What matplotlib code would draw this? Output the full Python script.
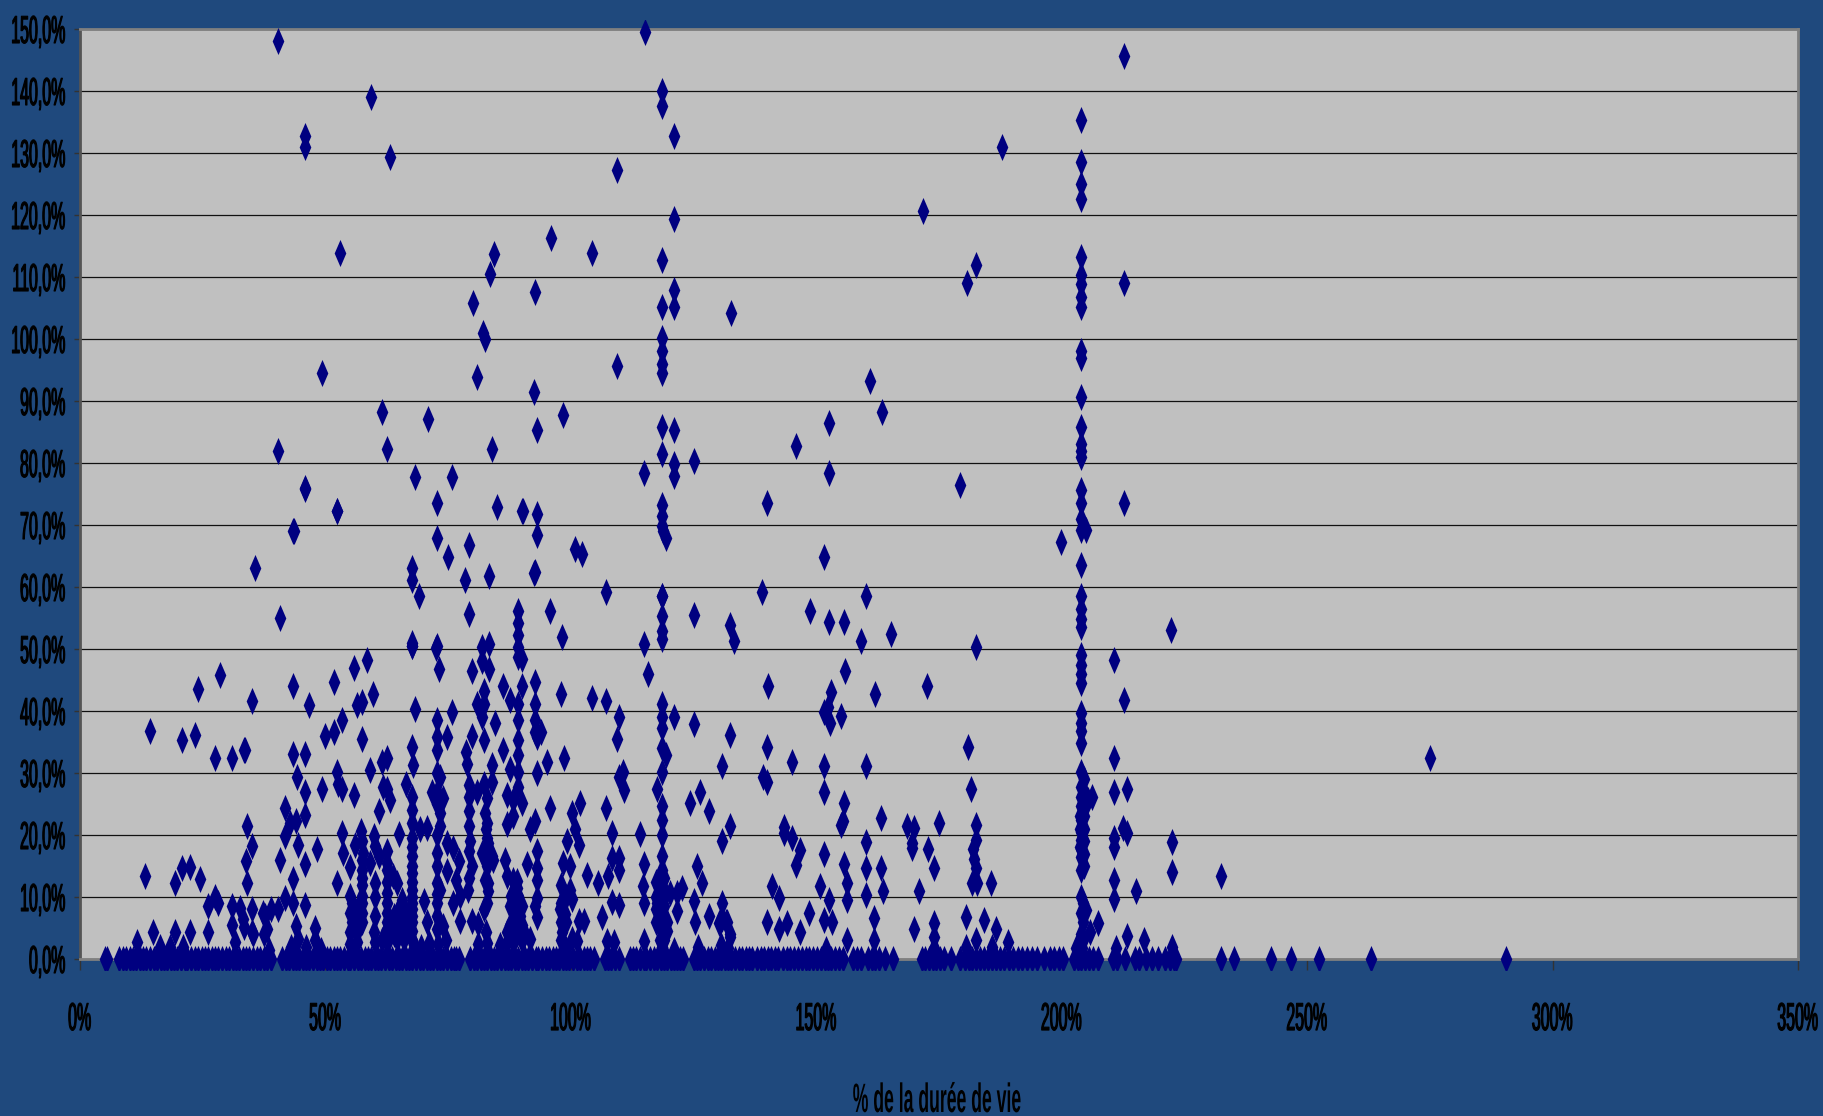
#!/usr/bin/env python3
# -*- coding: utf-8 -*-
"""
Nuage de points: ecart (%) en fonction du % de la duree de vie
"""
import matplotlib
matplotlib.use("Agg")
import matplotlib.pyplot as plt
from matplotlib.patches import Rectangle
from matplotlib.patheffects import AbstractPathEffect
from matplotlib.transforms import Affine2D

W, H = 1823, 1116
FOND = "#1F497D"
GRIS = "#C0C0C0"
MARQUE = "#000080"

xticks = [0, 50, 100, 150, 200, 250, 300, 350]
xlabels = ["0%", "50%", "100%", "150%", "200%", "250%", "300%", "350%"]
yticks = list(range(0, 151, 10))
ylabels = ["0,0%", "10,0%", "20,0%", "30,0%", "40,0%", "50,0%", "60,0%", "70,0%",
           "80,0%", "90,0%", "100,0%", "110,0%", "120,0%", "130,0%", "140,0%", "150,0%"]

# colonnes ou beaucoup de points ont la meme duree de vie
col_204 = [135.3, 128.6, 125, 122.6, 113.3, 110.4, 108.8, 106.8, 105.2, 98, 97, 90.7, 85.8, 83,
           81.9, 80.9, 75.7, 73.6, 70.9, 69.2, 63.5, 58.6, 56.5, 54.8, 53.5, 49, 47.5, 46, 44.5,
           39.6, 38, 36.7, 34.8, 30.2, 27.8, 26.2, 24.6, 22.4, 20.5, 19.2, 17.8, 16.5, 14.4, 10,
           7.4, 4.1]
col_118 = [140, 137.6, 112.8, 105.1, 100.2, 98, 95.9, 94.5, 85.8, 81.5, 73.3, 71.4, 69.8, 58.6,
           55.4, 52.9, 51.6, 41.2, 39, 37.2, 34, 30.2, 24.6, 22.5, 20, 16.6, 14.4, 11.5, 9.1, 7, 4.3]
col_121 = [132.8, 119.3, 107.9, 105.1, 85.3, 79.8, 77.9, 39.1]
col_89 = [56.2, 54.2, 52.3, 50.3, 48.7, 41.2, 38.5, 35.3, 32.9, 30.2, 27.8, 10.2, 7]
col_67 = [63, 61.1, 51, 50.5, 34.2, 26.2, 21.9, 19.5, 16.6, 13.9, 11.2, 9.1, 5.9]
col_93 = [85.3, 71.7, 68.4, 35.8, 30, 17.4, 14.7, 12.8, 9.9, 6.7]
col_72 = [73.5, 67.9, 50.5, 38.5, 35.8, 33.7, 17.1, 12.3, 9.1, 4.8]

# points a 0,0%
zero_x = [5.0, 5.5, 8.0, 8.7, 9.3, 10.1, 10.8, 11.4, 12.2, 12.9, 13.5, 14.3, 15.0, 15.6, 16.4, 17.1,
          17.7, 18.5, 19.2, 19.8, 20.6, 21.3, 21.9, 22.7, 23.4, 24.0, 24.8, 25.5, 26.1, 26.9, 27.6,
          28.2, 29.0, 29.7, 30.3, 31.1, 31.8, 32.4, 33.2, 33.9, 34.5, 35.3, 36.0, 36.6, 37.4, 38.1,
          39.0, 41.2, 41.9, 42.5, 43.3, 44.0, 44.6, 45.4, 46.1, 46.7, 47.5, 48.2, 48.8, 49.6, 50.3,
          50.9, 51.7, 52.4, 53.0, 53.8, 54.5, 55.1, 55.9, 56.6, 57.2, 58.0, 58.7, 59.3, 60.1, 60.8,
          61.4, 62.2, 62.9, 63.5, 64.3, 65.0, 65.6, 66.4, 67.1, 67.7, 68.5, 69.2, 69.8, 70.6, 71.3,
          71.9, 72.7, 73.4, 74.0, 74.8, 75.5, 76.1, 76.7, 77.3, 79.5, 80.2, 80.8, 81.6, 82.3, 82.9,
          83.7, 84.4, 85.0, 85.8, 86.5, 87.1, 87.9, 88.6, 89.2, 90.0, 90.7, 91.3, 92.1, 92.8, 93.4,
          94.2, 94.9, 95.5, 96.3, 97.0, 97.6, 98.4, 99.1, 99.7, 100.5, 101.2, 101.8, 102.6, 103.3,
          103.9, 104.7, 106.9, 107.6, 108.2, 109.0, 109.8, 112.0, 112.7, 113.3, 114.1, 114.8, 115.4,
          116.2, 116.9, 117.5, 118.3, 119.0, 119.6, 120.4, 121.1, 121.7, 122.3, 122.9, 125.1, 125.8,
          126.4, 127.2, 127.9, 128.5, 129.3, 130.0, 130.6, 131.4, 132.1, 132.7, 133.5, 134.2, 134.8,
          135.6, 136.3, 137.0, 138.0, 138.7, 139.3, 140.1, 140.8, 141.6, 142.3, 143.2, 144.0, 144.7,
          145.5, 146.2, 147.0, 148.0, 148.6, 149.4, 150.2, 150.9, 151.7, 152.4, 153.0, 153.8, 154.7,
          155.5, 157.5, 158.3, 159.1, 160.5, 161.3, 162.0, 162.8, 163.9, 165.6, 171.5, 172.2, 172.9,
          173.7, 174.4, 175.2, 176.1, 177.5, 179.3, 180.2, 181.1, 181.8, 182.6, 183.4, 184.2, 185.0,
          185.8, 186.6, 187.4, 188.3, 189.2, 190.1, 191.0, 192.0, 193.0, 194.0, 195.0, 196.4, 197.6,
          198.5, 199.4, 200.3, 202.5, 203.3, 204.0, 204.8, 205.6, 206.4, 207.4, 210.5, 211.3, 212.8,
          214.9, 215.7, 217.2, 218.4, 219.6, 221.0, 222.0, 222.8, 223.2, 232.5, 235.0, 242.7, 246.7,
          252.5, 263.0, 290.5]

# petits ecarts qui font les bosses juste au-dessus de la ligne de base
bas_x = [11.7, 16.2, 18.4, 21.0, 31.5, 38.5, 43.0, 44.5, 46.0, 47.8, 49.0, 55.0, 56.5, 60.0, 61.5,
         63.0, 64.5, 66.0, 68.0, 69.5, 71.0, 73.0, 74.5, 81.0, 83.0, 85.5, 87.0, 88.5, 90.0, 91.7,
         99.0, 100.2, 101.2, 107.3, 108.7, 115.0, 118.5, 121.0, 126.0, 130.5, 132.0, 152.0, 156.3,
         174.0, 180.5, 182.5, 185.7, 189.1, 203.0, 204.2, 211.0, 222.4]
bas_y = [2.8, 2.0, 2.0, 2.0, 2.8, 1.5, 2.0, 3.2, 2.0, 3.0, 1.5, 2.4, 2.8, 2.8, 3.0,
         3.4, 3.2, 3.2, 2.2, 2.0, 2.6, 2.4, 3.0, 2.4, 2.6, 2.2, 2.8, 3.0, 3.0, 3.2,
         1.6, 3.2, 2.9, 2.9, 2.7, 2.9, 2.0, 1.4, 2.0, 2.2, 1.8, 1.6, 3.1,
         1.8, 2.0, 3.0, 2.0, 2.8, 1.7, 1.8, 1.7, 2.0]

# (duree de vie, ecart)
gauche = [(14.2, 36.7), (20.8, 35.4), (23.4, 36.1), (27.5, 32.4), (30.9, 32.4), (33.5, 33.7), (13.3, 13.4),
          (20.8, 14.6), (22.4, 14.9), (24.4, 12.9), (19.4, 12.2), (26, 8.6), (27.6, 10), (28.2, 9), (14.9, 4.3),
          (19.4, 4.3), (22.4, 4.4), (26.1, 4.3), (30.9, 8.6), (32.5, 8.2), (30.9, 5.5), (33.5, 5.2), (35.3, 4.1),
          (37.3, 7.4), (37.5, 4.1), (35, 41.6), (24, 43.5), (28.5, 45.8), (35.7, 63), (40.3, 148), (40.3, 82),
          (40.7, 55), (43.6, 69), (45.9, 132.7), (45.9, 131), (45.9, 75.8), (49.3, 94.5), (45.8, 75.9),
          (43.3, 69.1), (52.4, 72.2), (53, 113.9), (43.3, 44), (46.7, 40.9), (51.8, 44.6), (55.9, 47), (58.4, 48.2),
          (59.7, 42.8), (57.5, 41.5), (56.5, 40.9), (53.4, 38.5), (51.8, 36.6), (49.9, 36), (57.5, 35.5),
          (33.6, 33.7), (43.3, 33), (45.8, 33), (62.5, 32.5), (61.5, 31.8), (59.1, 30.5), (44.3, 29.3), (52.4, 30.2),
          (52.6, 28.3), (53.3, 27.5), (49.3, 27.4), (45.8, 27), (55.9, 26.4), (61.8, 27.8), (62.5, 27.5), (63.1, 25.7),
          (61, 23.8), (66.5, 28.2), (41.7, 24.3), (41.7, 19.8), (42.8, 21.9), (44.1, 22.2), (45.8, 23.3),
          (44.5, 18.4), (48.3, 17.8), (34.1, 21.4), (35, 18.3), (33.8, 15.8), (34.1, 12.3), (40.7, 16), (45.8, 15.3),
          (43.3, 12.9), (53.4, 20.3), (53.6, 17.1), (55, 14.8), (52.4, 12.3), (56, 18.4), (57.2, 20.6), (57.7, 17.1),
          (59.8, 19.8), (60.1, 18.2), (61, 16.6), (62.5, 17.4), (57.4, 14.4), (59.1, 15.5), (60.1, 12.3), (62.5, 14.4),
          (63.8, 13.4), (64.5, 12.3), (65, 20.2), (55, 10.2), (55, 7.5), (56.4, 8), (57.5, 10.2), (57.5, 5.9),
          (62.5, 10.7), (62.5, 7.5), (65.2, 8.6), (66.5, 7.5), (62.5, 4.8), (59.8, 4.3), (44.1, 5.3), (47.9, 5),
          (41.7, 9.9), (43.3, 9.1), (45.8, 8.7), (40.4, 8), (39, 8), (37.7, 7), (35, 8), (33.3, 6.4), (35, 4.3),
          (38, 4.8), (55, 4.3), (56.4, 4.3), (59.2, 139), (63.2, 129.3), (61.6, 88.3), (62.5, 82.2), (52.4, 72.2)]

milieu = [(68.2, 77.8), (75.8, 77.8), (70.8, 87.1), (84, 82.2), (80.9, 93.9), (82, 101), (82.5, 100),
          (80, 105.8), (83.6, 110.5), (84.3, 113.7), (85, 72.9), (90, 72.2), (79.2, 66.7), (74.9, 64.8), (78.4, 61.1),
          (83.4, 61.7), (69.1, 58.6), (79.2, 55.7), (67.6, 50.5), (73.2, 46.8), (72.6, 50.2), (79.9, 46.4), (81.8, 50.3),
          (81.8, 48), (83.4, 50.8), (83.4, 46.8), (82.4, 43.3), (80.9, 41.2), (82.4, 41.2), (81.8, 39), (82.4, 35.3),
          (84.5, 38), (79.9, 36), (68.2, 40.4), (75.7, 39.8), (74.7, 35.8), (67.9, 31.3), (78.6, 33.4), (78.8, 31.5),
          (84, 31.3), (84, 28.6), (71.7, 27), (73.3, 29.4), (74, 25.9), (73.3, 23.5), (80.8, 27), (82.4, 28.3),
          (79.2, 26.2), (79.2, 23.8), (79.2, 21.4), (79.4, 19), (82.5, 23.5), (82.8, 20.9), (83.2, 18.7), (81.8, 17.1),
          (84.2, 16), (83.2, 12.3), (69.3, 20.9), (70.6, 21.1), (73.3, 21.4), (74.8, 18.7), (76, 17.9), (74.8, 14.2),
          (77.3, 15.8), (76.7, 12.8), (79.9, 15), (79, 11.2), (82.5, 12.8), (83.2, 11), (84, 16.6), (73.3, 11.2),
          (70.1, 9.4), (76, 9.1), (77.4, 10.2), (77.4, 6.1), (79.9, 6.1), (81.1, 5.6), (82.4, 8), (70.6, 5.9),
          (74, 5.3), (82.8, 4.3), (90, 48.4), (86.1, 44.1), (90.1, 44.1), (92.6, 44.7), (87.6, 41.7), (92.6, 41.2),
          (92.6, 38.5), (92.7, 36.6), (94, 36.6), (98, 42.8), (104.3, 42.1), (107.1, 41.6), (109.9, 39), (109.4, 35.5),
          (86.1, 33.7), (87.5, 30.7), (98.6, 32.5), (95.1, 31.8), (110.6, 30.2), (109.9, 29.4), (110.9, 27.3), (87, 26.5),
          (90, 25.1), (88.3, 25.7), (95.8, 24.4), (101.8, 25.1), (100.3, 23.5), (107.1, 24.4), (87, 21.7), (88.3, 23),
          (91.7, 20.9), (92.6, 22.2), (100.9, 20.9), (99.2, 19), (101.6, 18.4), (86.6, 16), (87, 13.4), (91, 15.3),
          (89.1, 12.6), (92.7, 8.6), (98.5, 15.5), (99.9, 15), (99.9, 11.2), (100.2, 9.6), (103.3, 13.5), (105.6, 12.3),
          (107.5, 13.4), (108.3, 20.3), (108.3, 16.3), (109.9, 16.3), (109.9, 14.4), (108.3, 9.2), (109.9, 8.7),
          (87.8, 10.2), (89.7, 7), (87, 4.3), (90.4, 4.3), (88.3, 12.8), (97.7, 8), (98.8, 7.2), (98.2, 4.3), (101.6, 6.1),
          (102.6, 6.1), (106.3, 6.7), (92.5, 91.4), (92.6, 107.6), (95.9, 116.3), (98.5, 87.7), (92.5, 62.3),
          (95.7, 56.2), (98.2, 51.9), (100.8, 66.1), (102.3, 65.4), (104.3, 113.9), (107.1, 59.2), (109.3, 95.7),
          (109.4, 127.3), (92.6, 62.5), (90.2, 72.2)]

droite = [(115.1, 149.5), (115, 78.4), (115, 50.8), (115.8, 46), (119.4, 67.9), (118.8, 69), (118.6, 58.6), (119.3, 32.9),
          (117.5, 27.5), (118, 11.5), (118.8, 11.5), (117.5, 9.1), (118.2, 7), (114.1, 20.2), (115, 15.4), (114.7, 11.7),
          (115, 9.1), (120.2, 10.7), (121.6, 10.7), (122.6, 11.5), (121.6, 7.8), (125.1, 80.3), (125.1, 55.5), (125.1, 37.9),
          (124.2, 25.1), (126.3, 26.9), (128.2, 23.8), (125.8, 15), (126.7, 12.3), (125.1, 9.4), (125.3, 5.9), (128.2, 7),
          (130.8, 9.1), (130.4, 5.9), (131.8, 5.9), (132.4, 4), (130.8, 31.2), (130.8, 19), (132.4, 21.4), (132.6, 104.2),
          (132.4, 53.8), (133.3, 51.3), (132.4, 36.1), (130.8, 6.5), (130.1, 5.8), (131.7, 6), (132.5, 3.6),
          (139, 59.2), (140.2, 44.1), (140, 34.2), (139.1, 29.4), (140, 28.6), (139.9, 73.5), (145, 31.8), (145.9, 82.8),
          (143.4, 21.3), (143.4, 20.3), (145, 19.5), (146.6, 17.6), (145.9, 15.2), (140.9, 11.7), (142.4, 9.8), (140, 6),
          (142.4, 4.9), (144, 5.8), (146.6, 4.4), (148.5, 7.4), (150.7, 11.7), (148.8, 56.2), (151.6, 64.8), (152.6, 86.5),
          (152.6, 78.4), (152.6, 54.3), (155.7, 54.3), (155, 39.2), (151.6, 39.9), (152.7, 38), (152.3, 40.7), (153, 43),
          (155.8, 46.5), (151.6, 31.2), (151.6, 27), (155.7, 25.1), (155.5, 22.2), (155.1, 21.6), (151.6, 17), (155.7, 15.4),
          (156.3, 12.2), (156.3, 9.5), (152.5, 9.5), (151.6, 6.3), (153.1, 6), (160.1, 58.6), (159.1, 51.3), (161, 93.3),
          (163.3, 88.3), (162, 42.8), (165.2, 52.5), (160.1, 31.2), (163.1, 22.7), (160.1, 18.9), (160.1, 14.6), (160.1, 10.3),
          (163.1, 14.6), (163.5, 10.9), (161.8, 6.6), (161.8, 3.1), (168.4, 21.5), (170, 21.1), (169.6, 17.9), (169.6, 18.7),
          (175, 22), (172.8, 17.7), (174, 14.6), (171, 11), (170, 4.8), (174, 5.8), (174, 3.6), (171.7, 120.7), (172.6, 44),
          (179.3, 76.5), (180.7, 109), (182.6, 112), (187.8, 131), (182.6, 50.4), (180.9, 34.2), (181.6, 27.5), (182.5, 21.6),
          (182.5, 19.2), (181.9, 17.8), (182.2, 16.2), (182.5, 14.6), (181.7, 12.2), (182.7, 12.2), (185.6, 12.2),
          (180.6, 6.7), (184.2, 6.3), (186.7, 4.9), (199.9, 67.3), (204.9, 69.2), (206.2, 26.2), (205.4, 25.6),
          (205, 7.9), (205.8, 4.4), (207.4, 5.8), (212.6, 145.7), (212.6, 109), (212.6, 73.5), (210.6, 48.3), (212.6, 41.7),
          (210.6, 32.5), (210.6, 27), (213.2, 27.5), (210.6, 19.5), (210.6, 18.1), (212.4, 21.1), (213.2, 20.3), (210.6, 12.7),
          (210.6, 9.7), (215.1, 11), (213.2, 3.7), (216.7, 3.1), (222.3, 53.1), (222.4, 18.9), (222.4, 14.1), (232.5, 13.4),
          (275, 32.4)]

# zones pleines, la ou les losanges se recouvrent
plein = [(57.5, 19), (57.5, 16), (57.5, 13), (57.5, 12), (57.5, 9), (57.5, 7.5), (62.5, 15.5), (62.5, 12.5), (62.5, 9),
         (62.5, 6), (62.5, 3), (67.6, 24), (67.6, 18), (67.6, 15), (67.6, 12.5), (67.6, 10), (67.6, 8), (67.6, 7),
         (67.6, 4.5), (67.6, 3), (60, 10), (60, 7), (64, 7), (64, 5), (64, 4), (65.5, 9.5), (65.5, 6), (65.5, 4), (66.5, 6),
         (66.5, 4.5), (55.5, 6), (55.5, 9), (88.3, 9), (88.3, 6), (88.3, 5), (88.3, 3), (89, 11.5), (89, 8.5), (89, 5.5),
         (89, 4), (90, 8.5), (90, 5.5), (90, 3), (87.5, 8.5), (87.5, 5.5), (98, 12), (98, 9), (98, 6), (98, 3), (99, 10),
         (99, 6), (117.3, 12.5), (117.3, 10), (117.3, 8), (117.3, 6), (118.2, 13), (118.2, 10), (118.2, 8.5), (118.2, 5.5),
         (118.2, 3), (119, 13), (119, 10), (119, 8.5), (119, 6), (119, 3), (119.5, 6), (119.5, 4.5), (204.5, 29), (204.5, 27),
         (204.5, 25), (204.5, 23), (204.5, 21), (204.5, 19), (204.5, 17), (204.5, 15), (203.7, 23), (203.7, 21), (203.7, 18),
         (204.3, 9), (204.3, 6), (204.3, 3), (72.7, 30), (72.7, 27), (72.7, 25), (72.7, 20), (72.7, 15), (72.7, 10.5), (72.7, 7),
         (79.2, 28), (79.2, 17.5), (79.2, 13), (83, 26), (83, 22), (83, 19.5), (83, 15), (83, 9)]


class Serre(AbstractPathEffect):
    # la police du graphique est tres etroite, on ecrase le texte en largeur
    def __init__(self, sx, cote="centre", trait=0.0):
        super().__init__()
        self.sx = sx
        self.cote = cote
        self.trait = trait

    def draw_path(self, renderer, gc, tpath, affine, rgbFace=None):
        xs = tpath.vertices[:, 0]
        x0 = xs.max() if self.cote == "droite" else (xs.min() + xs.max()) / 2
        t = Affine2D().translate(-x0, 0).scale(self.sx, 1).translate(x0, 0) + affine
        gc0 = renderer.new_gc()
        gc0.copy_properties(gc)
        gc0.set_linewidth(self.trait)
        gc0.set_foreground("black")
        renderer.draw_path(gc0, tpath, t, rgbFace)
        gc0.restore()


def colonne(x, valeurs):
    return [x] * len(valeurs), valeurs


plt.rcParams["font.family"] = ["Liberation Sans", "DejaVu Sans"]
fig = plt.figure(figsize=(W / 100, H / 100), dpi=100, facecolor=FOND)
ax = fig.add_axes([80 / W, 1 - 959 / H, (1798 - 80) / W, (959 - 29) / H], facecolor=GRIS)
ax.set_xlim(0, 350)
ax.set_ylim(0, 150)

# les marqueurs depassent du cadre en bas et en haut
cadre = Rectangle((60 / W, 1 - 970 / H), (1810 - 60) / W, (970 - 20) / H, transform=fig.transFigure)
losange = [(0, 1), (0.43, 0), (0, -1), (-0.43, 0), (0, 1)]

series = [colonne(204, col_204), colonne(118.5, col_118), colonne(121, col_121), colonne(89.3, col_89),
          colonne(67.6, col_67), colonne(93.2, col_93), colonne(72.7, col_72),
          (zero_x, [0] * len(zero_x)), (bas_x, bas_y),
          ([p[0] for p in gauche], [p[1] for p in gauche]),
          ([p[0] for p in milieu], [p[1] for p in milieu]),
          ([p[0] for p in droite], [p[1] for p in droite]),
          ([p[0] for p in plein], [p[1] for p in plein])]
for xs, ys in series:
    sc = ax.scatter(xs, ys, marker=losange, s=19.5 ** 2, color=MARQUE, linewidths=0, zorder=3)
    sc.set_clip_path(cadre)

ax.set_yticks(yticks)
ax.set_yticklabels(ylabels)
ax.set_xticks(xticks)
ax.set_xticklabels(xlabels)
ax.grid(axis="y", color="#111111", linewidth=0.9, zorder=1)
ax.set_axisbelow(True)
ax.tick_params(axis="y", length=4, width=1, color="#333333", pad=6, labelsize=28)
ax.tick_params(axis="x", length=8, width=1, color="#333333", pad=23, labelsize=28)
for t in ax.get_yticklabels():
    t.set_path_effects([Serre(0.41, "droite", trait=0.8)])
for t in ax.get_xticklabels():
    t.set_path_effects([Serre(0.41, trait=0.8)])

for cote in ax.spines:
    ax.spines[cote].set_color("#808080")
    ax.spines[cote].set_linewidth(2)
ax.spines["left"].set_color("#555555")

fig.text(937 / W, 1 - 1112 / H, "% de la durée de vie", ha="center", va="baseline", fontsize=29.5,
         fontweight="bold", color="black", path_effects=[Serre(0.43)])

fig.savefig("out.png", dpi=100, facecolor=FOND)
